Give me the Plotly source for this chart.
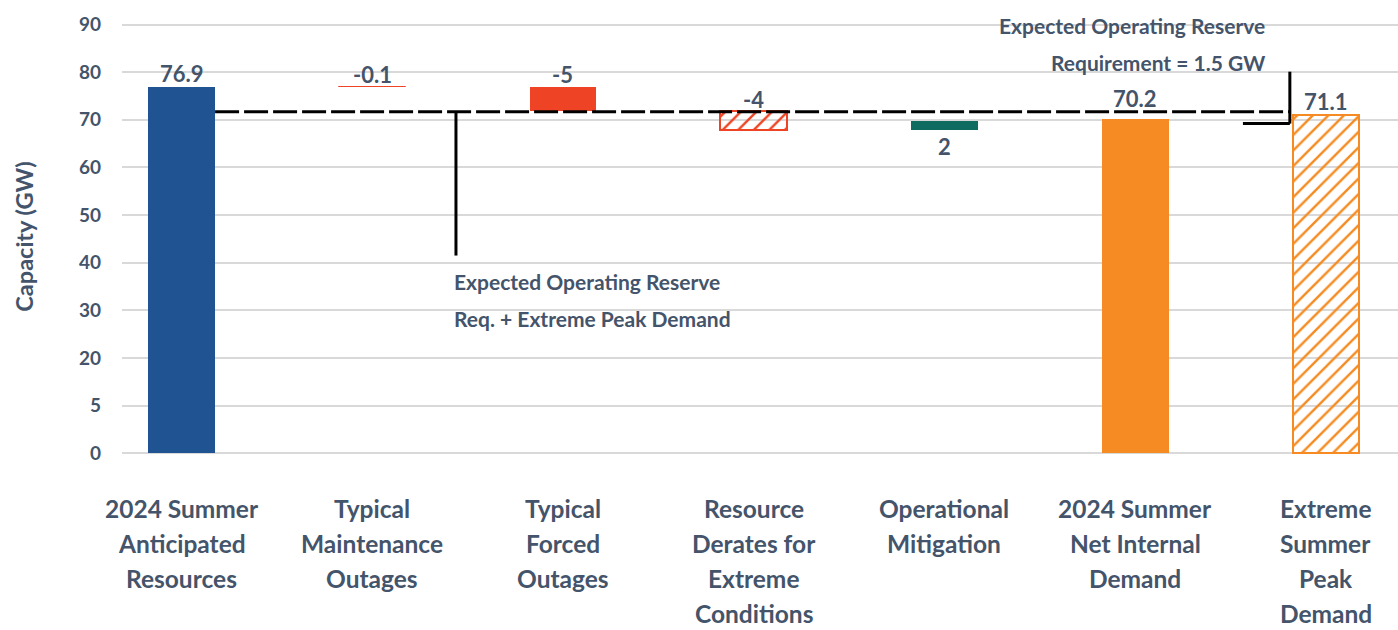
import plotly.graph_objects as go

# ---- data ----
categories = [
    "2024 Summer<br>Anticipated<br>Resources",
    "Typical<br>Maintenance<br>Outages",
    "Typical<br>Forced<br>Outages",
    "Resource<br>Derates for<br>Extreme<br>Conditions",
    "Operational<br>Mitigation",
    "2024 Summer<br>Net Internal<br>Demand",
    "Extreme<br>Summer<br>Peak<br>Demand",
]
values = [76.9, -0.1, -5, -4, 2, 70.2, 71.1]
measures = ["total", "delta", "delta", "delta", "delta", "total", "total"]
value_labels = ["76.9", "-0.1", "-5", "-4", "2", "70.2", "71.1"]
reserve_level = 71.7          # operating reserve requirement + extreme peak demand
y_tickvals = [0, 10, 20, 30, 40, 50, 60, 70, 80, 90]
y_ticktext = ["0", "5", "20", "30", "40", "50", "60", "70", "80", "90"]

# ---- styling ----
FONT = "Lato"
TEXT = "#44546A"
BLUE, RED, GREEN, ORANGE = "#1F5391", "#EE4425", "#106B60", "#F58B22"
bar_colors = [BLUE, RED, RED, RED, GREEN, ORANGE, ORANGE]
bar_hatch = ["", "", "", "/", "", "", "/"]
bar_outline = [0, 1, 0, 2, 0, 0, 2]
# pixel offset of each value label from the bar end (negative = below the bar)
label_offset = [13, 12, 13, 12, -16, 20, 13]

# waterfall bases
x = list(range(len(categories)))
bases, heights, tops, bottoms = [], [], [], []
running = 0.0
for v, m in zip(values, measures):
    if m == "total":
        b, e = 0.0, v
        running = v
    else:
        b, e = running, running + v
        running = e
    lo, hi = min(b, e), max(b, e)
    bases.append(lo)
    heights.append(hi - lo)
    tops.append(hi)
    bottoms.append(lo)

fig = go.Figure()
fig.add_trace(go.Bar(
    x=x, y=heights, base=bases, width=0.35,
    marker=dict(
        color=bar_colors,
        line=dict(color=bar_colors, width=bar_outline),
        pattern=dict(shape=bar_hatch, fgcolor=bar_colors, bgcolor="white",
                     size=11, solidity=0.22, fillmode="replace"),
    ),
    hoverinfo="skip", showlegend=False,
))

annotations = []
# value labels
for i, lab in enumerate(value_labels):
    anchor_y = tops[i] if label_offset[i] > 0 else bottoms[i]
    annotations.append(dict(x=i, y=anchor_y, xref="x", yref="y", text=lab,
                            showarrow=False, yanchor="middle", yshift=label_offset[i],
                            font=dict(family=FONT, size=22, color=TEXT, weight="bold")))

# category labels, one line at a time
for i, cat in enumerate(categories):
    for j, line in enumerate(cat.split("<br>")):
        annotations.append(dict(x=i, y=0, xref="x", yref="y", text=line,
                                showarrow=False, yanchor="middle", yshift=-55 - 35 * j,
                                borderpad=0,
                                font=dict(family=FONT, size=24.5, color=TEXT, weight="bold")))

note_font = dict(family=FONT, size=21, color=TEXT, weight="bold")
annotations += [
    dict(x=1.418, y=36.1, xref="x", yref="y", text="Expected Operating Reserve",
         showarrow=False, xanchor="left", yanchor="middle", font=note_font),
    dict(x=1.418, y=28.3, xref="x", yref="y", text="Req. + Extreme Peak Demand",
         showarrow=False, xanchor="left", yanchor="middle", font=note_font),
    dict(x=5.693, y=89.8, xref="x", yref="y", text="Expected Operating Reserve",
         showarrow=False, xanchor="right", yanchor="middle", font=note_font),
    dict(x=5.693, y=82.0, xref="x", yref="y", text="Requirement = 1.5 GW",
         showarrow=False, xanchor="right", yanchor="middle", font=note_font),
]

shapes = [
    # reserve requirement line
    dict(type="line", xref="x", yref="y", x0=0.176, x1=5.811, y0=reserve_level, y1=reserve_level,
         line=dict(color="black", width=3, dash="24px,5px")),
    # pointer down to the left note
    dict(type="line", xref="x", yref="y", x0=1.439, x1=1.439, y0=reserve_level, y1=41.5,
         line=dict(color="black", width=3)),
    # bracket for the reserve requirement
    dict(type="line", xref="x", yref="y", x0=5.811, x1=5.811, y0=80.1, y1=69.2,
         line=dict(color="black", width=3)),
    dict(type="line", xref="x", yref="y", x0=5.565, x1=5.811, y0=69.2, y1=69.2,
         line=dict(color="black", width=3)),
]

fig.update_layout(
    width=1398, height=630,
    margin=dict(l=122, r=0, t=14.5, b=172.2),
    paper_bgcolor="white", plot_bgcolor="white",
    font=dict(family=FONT, color=TEXT),
    annotations=annotations, shapes=shapes,
    bargap=0,
    xaxis=dict(range=[-0.312, 6.378], showticklabels=False, showgrid=False,
               zeroline=False, showline=False, ticks=""),
    yaxis=dict(range=[-1, 92], tickvals=y_tickvals, ticktext=y_ticktext,
               showgrid=True, gridcolor="#D9D9D9", gridwidth=2, zeroline=False,
               showline=False, ticks="", ticklabelstandoff=20,
               tickfont=dict(family=FONT, size=19, color=TEXT, weight="bold"),
               title=dict(text="Capacity (GW)", standoff=38,
                          font=dict(family=FONT, size=23.5, color=TEXT, weight="bold"))),
)

fig.write_html("out.html")
